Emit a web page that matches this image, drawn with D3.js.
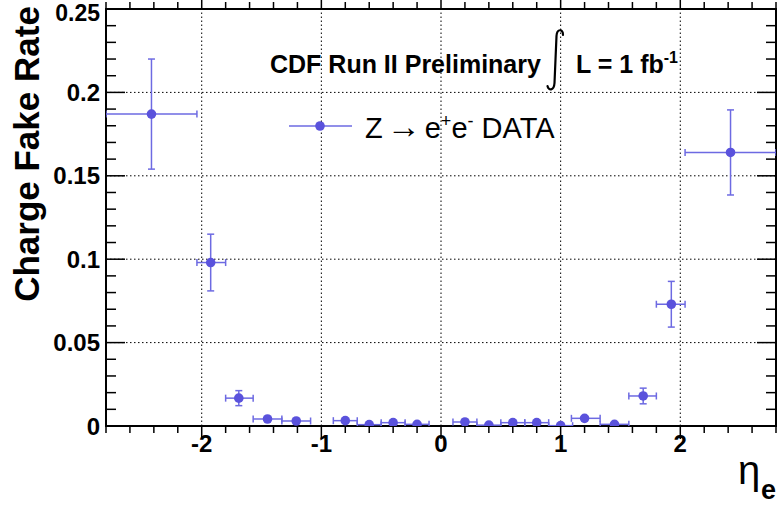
<!DOCTYPE html>
<html>
<head>
<meta charset="utf-8">
<script src="https://cdn.jsdelivr.net/npm/d3@7"></script>
<style>
  body { margin: 0; background: #fff; }
  text { font-family: "Liberation Sans", Arial, Helvetica, sans-serif; }
</style>
</head>
<body>
<div class="canvas"></div>
<script>
// eta bins and measured charge fake rate
const etaCenter = [-2.42, -1.925, -1.69, -1.45, -1.21, -0.8, -0.6, -0.4, -0.2, 0.2, 0.4, 0.6, 0.8, 1.0, 1.2, 1.45, 1.69, 1.925, 2.42];
const etaLow    = [-2.8, -2.04, -1.80, -1.57, -1.33, -0.9, -0.7, -0.5, -0.3, 0.1, 0.3, 0.5, 0.7, 0.9, 1.09, 1.33, 1.57, 1.80, 2.04];
const etaHigh   = [-2.04, -1.80, -1.57, -1.33, -1.09, -0.7, -0.5, -0.3, -0.1, 0.3, 0.5, 0.7, 0.9, 1.1, 1.33, 1.57, 1.80, 2.04, 2.8];
const rate      = [0.187, 0.098, 0.0167, 0.0042, 0.003, 0.0032, 0.0008, 0.002, 0.001, 0.0024, 0.0005, 0.002, 0.002, 0.0002, 0.0046, 0.001, 0.018, 0.073, 0.164];
const rateErr   = [0.033, 0.017, 0.0045, 0.0012, 0.001, 0.001, 0.0008, 0.001, 0.0008, 0.001, 0.0005, 0.001, 0.001, 0.0008, 0.0012, 0.0008, 0.0047, 0.0137, 0.0255];

const xTicks = [-2, -1, 0, 1, 2];
const yTicks = [0, 0.05, 0.1, 0.15, 0.2, 0.25];
const yTickLabels = ['0', '0.05', '0.1', '0.15', '0.2', '0.25'];

const W = 777, H = 507;
const m = { t: 9, r: 1, b: 81, l: 106 };
const blue = '#5a52dc';
const blueLine = '#6d6ae2';

const rows = etaCenter.map((d, i) => ({
  x: d, lo: etaLow[i], hi: etaHigh[i], y: rate[i], e: rateErr[i]
}));

const svg = d3.select('.canvas').append('svg')
  .attr('width', W).attr('height', H);

const x = d3.scaleLinear().domain([-2.8, 2.8]).range([m.l, W - m.r]);
const y = d3.scaleLinear().domain([0, 0.25]).range([H - m.b, m.t]);

// dotted grid
const grid = svg.append('g')
  .attr('stroke', '#000').attr('stroke-width', 1).attr('stroke-dasharray', '1.5,2.5');
grid.selectAll('.gx').data(xTicks).enter().append('line')
  .attr('x1', d => x(d)).attr('x2', d => x(d))
  .attr('y1', y(0)).attr('y2', y(0.25));
grid.selectAll('.gy').data(yTicks.slice(1, -1)).enter().append('line')
  .attr('x1', x(-2.8)).attr('x2', x(2.8))
  .attr('y1', d => y(d)).attr('y2', d => y(d));

// ticks
const xMinor = d3.range(-2.8, 2.81, 0.2).map(d => +d.toFixed(1)).filter(d => Math.abs(d % 1) > 0.01);
const yMinor = d3.range(0.01, 0.25, 0.01).map(d => +d.toFixed(2)).filter(d => Math.round(d * 100) % 5 !== 0);
const ticks = svg.append('g').attr('stroke', '#000').attr('stroke-width', 1.5);
[[y(0), -1], [y(0.25), 1]].forEach(([yy, s]) => {
  ticks.selectAll(null).data(xTicks).enter().append('line')
    .attr('x1', d => x(d)).attr('x2', d => x(d)).attr('y1', yy).attr('y2', yy - s * 13);
  ticks.selectAll(null).data(xMinor).enter().append('line')
    .attr('x1', d => x(d)).attr('x2', d => x(d)).attr('y1', yy).attr('y2', yy - s * 7);
});
[[x(-2.8), 1], [x(2.8), -1]].forEach(([xx, s]) => {
  ticks.selectAll(null).data(yTicks).enter().append('line')
    .attr('y1', d => y(d)).attr('y2', d => y(d)).attr('x1', xx).attr('x2', xx + s * 19);
  ticks.selectAll(null).data(yMinor).enter().append('line')
    .attr('y1', d => y(d)).attr('y2', d => y(d)).attr('x1', xx).attr('x2', xx + s * 10);
});

// frame
svg.append('rect')
  .attr('x', x(-2.8)).attr('y', y(0.25))
  .attr('width', x(2.8) - x(-2.8)).attr('height', y(0) - y(0.25))
  .attr('fill', 'none').attr('stroke', '#000').attr('stroke-width', 2);

// tick labels
svg.append('g').selectAll('text').data(xTicks).enter().append('text')
  .attr('x', d => x(d)).attr('y', 452)
  .attr('text-anchor', 'middle')
  .style('font-size', '24px').style('font-weight', 'bold')
  .text(d => d);
svg.append('g').selectAll('text').data(yTicks).enter().append('text')
  .attr('x', 100).attr('y', d => Math.max(y(d) + 8.5, 21))
  .attr('text-anchor', 'end')
  .style('font-size', d => d === 0.25 ? '23px' : '24px').style('font-weight', 'bold')
  .text((d, i) => yTickLabels[i]);

// axis titles
svg.append('text')
  .attr('transform', 'translate(39,154) rotate(-90)')
  .attr('text-anchor', 'middle')
  .style('font-size', '35px').style('font-weight', 'bold')
  .text('Charge Fake Rate');
svg.append('text').attr('x', 738).attr('y', 484).style('font-size', '40px').text('η');
svg.append('text').attr('x', 761).attr('y', 499).style('font-size', '27px').style('font-weight', 'bold').text('e');

// data
svg.append('clipPath').attr('id', 'clip').append('rect')
  .attr('x', x(-2.8)).attr('y', y(0.25))
  .attr('width', x(2.8) - x(-2.8)).attr('height', y(0) - y(0.25));
const pts = svg.append('g').attr('clip-path', 'url(#clip)');
const eb = pts.append('g').attr('stroke', blueLine).attr('stroke-width', 1.5).attr('fill', 'none');
eb.selectAll('.ex').data(rows).enter().append('line')
  .attr('x1', d => x(d.lo)).attr('x2', d => x(d.hi))
  .attr('y1', d => y(d.y)).attr('y2', d => y(d.y));
eb.selectAll('.ey').data(rows).enter().append('line')
  .attr('x1', d => x(d.x)).attr('x2', d => x(d.x))
  .attr('y1', d => y(d.y - d.e)).attr('y2', d => y(d.y + d.e));
eb.selectAll('.cl').data(rows).enter().append('line')
  .attr('x1', d => x(d.lo)).attr('x2', d => x(d.lo))
  .attr('y1', d => y(d.y) - 3.5).attr('y2', d => y(d.y) + 3.5);
eb.selectAll('.ch').data(rows).enter().append('line')
  .attr('x1', d => x(d.hi)).attr('x2', d => x(d.hi))
  .attr('y1', d => y(d.y) - 3.5).attr('y2', d => y(d.y) + 3.5);
eb.selectAll('.ct').data(rows.filter(d => y(d.y - d.e) - y(d.y + d.e) > 10)).enter().append('line')
  .attr('x1', d => x(d.x) - 3.5).attr('x2', d => x(d.x) + 3.5)
  .attr('y1', d => y(d.y + d.e)).attr('y2', d => y(d.y + d.e));
eb.selectAll('.cb').data(rows.filter(d => y(d.y - d.e) - y(d.y + d.e) > 10)).enter().append('line')
  .attr('x1', d => x(d.x) - 3.5).attr('x2', d => x(d.x) + 3.5)
  .attr('y1', d => y(d.y - d.e)).attr('y2', d => y(d.y - d.e));
pts.selectAll('circle').data(rows).enter().append('circle')
  .attr('cx', d => x(d.x)).attr('cy', d => y(d.y)).attr('r', 4.8)
  .attr('fill', blue);

// header text
svg.append('text').attr('x', 270).attr('y', 73)
  .style('font-size', '25px').style('font-weight', 'bold')
  .text('CDF Run II Preliminary');
// integral sign, drawn thin and tall like the ROOT latex one
svg.append('path')
  .attr('d', 'M563,35 C563,29 557,28 556.5,36 L554.5,83 C554,91 548.5,91 547.5,86')
  .attr('fill', 'none').attr('stroke', '#000').attr('stroke-width', 2.2)
  .attr('stroke-linecap', 'round');
const lum = svg.append('text').attr('x', 576).attr('y', 73)
  .style('font-size', '25px').style('font-weight', 'bold');
lum.append('tspan').text('L = 1 fb');
lum.append('tspan').attr('dy', -10).style('font-size', '16px').text('-1');

// legend
svg.append('line').attr('x1', 289).attr('x2', 352).attr('y1', 126).attr('y2', 126)
  .attr('stroke', blueLine).attr('stroke-width', 1.5);
svg.append('circle').attr('cx', 320).attr('cy', 126).attr('r', 4.8).attr('fill', blue);
const lg = svg.append('text').attr('x', 365).attr('y', 138).style('font-size', '29px');
lg.append('tspan').text('Z');
lg.append('tspan').attr('dx', 4).style('font-size', '34px').text('→');
lg.append('tspan').attr('dx', 4).text('e');
lg.append('tspan').attr('dy', -11).style('font-size', '18px').text('+');
lg.append('tspan').attr('dy', 11).text('e');
lg.append('tspan').attr('dy', -11).style('font-size', '18px').text('-');
lg.append('tspan').attr('dy', 11).text(' DATA');
</script>
</body>
</html>
